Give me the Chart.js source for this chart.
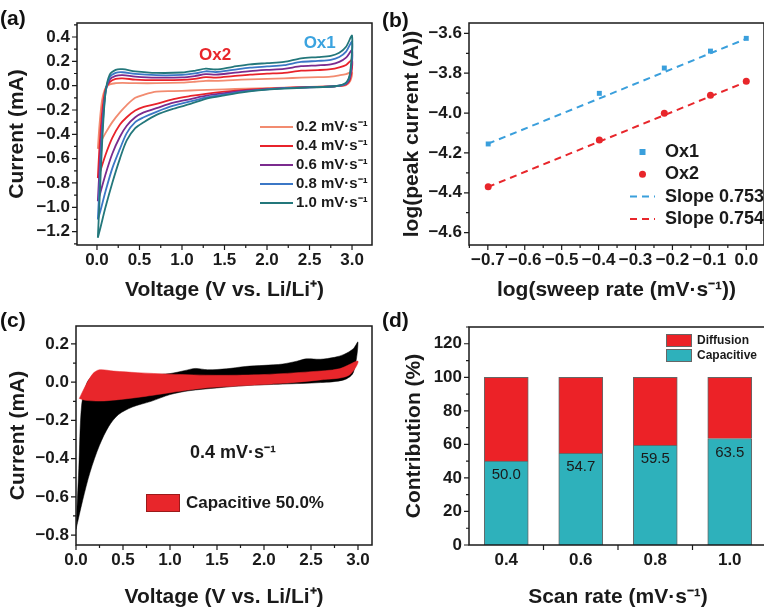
<!DOCTYPE html>
<html>
<head>
<meta charset="utf-8">
<script src="https://cdn.jsdelivr.net/npm/chart.js@4.4.1/dist/chart.umd.min.js"></script>
<style>
html, body { margin: 0; padding: 0; background: #fff; overflow: hidden; width: 764px; height: 607px; }
.panel { position: absolute; }
.tag { position: absolute; font: bold 21px "Liberation Sans", Arial, sans-serif; color: #111; }
</style>
</head>
<body>
<div class="panel" style="left:0;top:0"><canvas id="chartA" width="382" height="300"></canvas></div>
<div class="panel" style="left:382px;top:0"><canvas id="chartB" width="386" height="300"></canvas></div>
<div class="panel" style="left:0;top:300px"><canvas id="chartC" width="382" height="307"></canvas></div>
<div class="panel" style="left:382px;top:300px"><canvas id="chartD" width="386" height="307"></canvas></div>
<div class="tag" style="left:0;top:6px">(a)</div>
<div class="tag" style="left:382px;top:8px">(b)</div>
<div class="tag" style="left:0;top:308px">(c)</div>
<div class="tag" style="left:382px;top:308px">(d)</div>
<script>
// ---- (a) CV curves at five sweep rates ----
const rateNames = ['0.2 mV·s⁻¹', '0.4 mV·s⁻¹', '0.6 mV·s⁻¹', '0.8 mV·s⁻¹', '1.0 mV·s⁻¹'];
const anodicV   = [0.01, 0.03, 0.06, 0.1, 0.15, 0.22, 0.3, 0.45, 0.7, 1.0, 1.15, 1.28, 1.4, 1.6, 1.8, 2.0, 2.2, 2.4, 2.6, 2.75, 2.85, 2.93, 3.0];
const cathodicV = [2.98, 2.93, 2.8, 2.5, 2.2, 2.0, 1.75, 1.5, 1.3, 1.1, 0.9, 0.7, 0.55, 0.45, 0.35, 0.27, 0.18, 0.1, 0.04, 0.01];

const anodic02 = [-0.52, -0.32, -0.12, -0.02, 0.01, 0.02, 0.022, 0.02, 0.02, 0.025, 0.032, 0.04, 0.04, 0.046, 0.052, 0.056, 0.06, 0.066, 0.07, 0.075, 0.085, 0.095, 0.11];
const anodic04 = [-0.76, -0.5, -0.22, -0.03, 0.03, 0.055, 0.06, 0.05, 0.045, 0.047, 0.056, 0.07, 0.066, 0.078, 0.09, 0.098, 0.105, 0.123, 0.128, 0.135, 0.15, 0.17, 0.21];
const anodic06 = [-0.95, -0.68, -0.33, -0.05, 0.05, 0.08, 0.087, 0.075, 0.066, 0.068, 0.079, 0.094, 0.09, 0.105, 0.12, 0.13, 0.138, 0.16, 0.167, 0.175, 0.195, 0.23, 0.29];
const anodic08 = [-1.1, -0.82, -0.4, -0.06, 0.07, 0.105, 0.11, 0.096, 0.086, 0.088, 0.1, 0.118, 0.112, 0.13, 0.148, 0.158, 0.168, 0.195, 0.203, 0.212, 0.235, 0.28, 0.36];
const anodic10 = [-1.25, -0.95, -0.48, -0.06, 0.09, 0.13, 0.135, 0.118, 0.105, 0.108, 0.122, 0.14, 0.133, 0.155, 0.175, 0.185, 0.195, 0.225, 0.235, 0.245, 0.27, 0.32, 0.41];

const cathodic02 = [0.04, 0.005, -0.004, -0.01, -0.016, -0.02, -0.025, -0.03, -0.035, -0.04, -0.045, -0.05, -0.075, -0.1, -0.16, -0.22, -0.3, -0.39, -0.47, -0.52];
const cathodic04 = [0.06, 0.01, -0.005, -0.012, -0.018, -0.025, -0.035, -0.05, -0.065, -0.085, -0.11, -0.15, -0.175, -0.205, -0.26, -0.32, -0.43, -0.57, -0.7, -0.76];
const cathodic06 = [0.08, 0.015, -0.005, -0.013, -0.02, -0.028, -0.042, -0.062, -0.08, -0.11, -0.14, -0.185, -0.22, -0.26, -0.33, -0.42, -0.56, -0.73, -0.88, -0.95];
const cathodic08 = [0.1, 0.02, -0.005, -0.014, -0.021, -0.03, -0.047, -0.072, -0.095, -0.13, -0.165, -0.215, -0.26, -0.3, -0.39, -0.52, -0.68, -0.87, -1.03, -1.1];
const cathodic10 = [0.12, 0.025, -0.005, -0.015, -0.024, -0.033, -0.052, -0.08, -0.105, -0.15, -0.19, -0.24, -0.3, -0.35, -0.45, -0.6, -0.8, -1.0, -1.17, -1.25];

const aXTicks = [0, 0.5, 1.0, 1.5, 2.0, 2.5, 3.0];
const aYTicks = [-1.2, -1.0, -0.8, -0.6, -0.4, -0.2, 0.0, 0.2, 0.4];

// ---- (b) log(peak current) vs log(sweep rate) ----
const logRate = [-0.699, -0.398, -0.222, -0.097, 0.0];
const logOx1  = [-4.155, -3.901, -3.774, -3.689, -3.625];
const logOx2  = [-4.37, -4.135, -4.001, -3.91, -3.84];
const fitX    = [-0.7, 0.0];
const fitOx1  = [-4.154, -3.627];
const fitOx2  = [-4.371, -3.843];
const bXTicks = [-0.7, -0.6, -0.5, -0.4, -0.3, -0.2, -0.1, 0.0];
const bYTicks = [-4.6, -4.4, -4.2, -4.0, -3.8, -3.6];

// ---- (c) capacitive share at 0.4 mV/s ----
const totalUpV = [0.0, 0.03, 0.06, 0.12, 0.2, 0.3, 0.5, 0.8, 1.0, 1.15, 1.27, 1.4, 1.6, 1.8, 2.0, 2.2, 2.35, 2.45, 2.6, 2.75, 2.85, 2.95, 3.0];
const totalUpI = [-0.77, -0.45, -0.12, 0.0, 0.04, 0.05, 0.045, 0.04, 0.045, 0.06, 0.072, 0.065, 0.07, 0.082, 0.088, 0.095, 0.11, 0.122, 0.12, 0.13, 0.145, 0.175, 0.21];
const totalDownV = [2.95, 2.85, 2.6, 2.2, 1.8, 1.5, 1.2, 1.0, 0.8, 0.6, 0.45, 0.35, 0.25, 0.15, 0.07, 0.0];
const totalDownI = [0.05, 0.012, -0.002, -0.01, -0.018, -0.03, -0.045, -0.065, -0.1, -0.13, -0.17, -0.23, -0.33, -0.47, -0.62, -0.77];
const capUpV = [0.035, 0.1, 0.18, 0.25, 0.4, 0.65, 1.0, 1.5, 2.0, 2.5, 2.8, 3.0];
const capUpI = [-0.085, -0.02, 0.045, 0.065, 0.058, 0.05, 0.042, 0.036, 0.04, 0.055, 0.07, 0.11];
const capDownV = [2.9, 2.6, 2.2, 1.8, 1.35, 1.0, 0.65, 0.3, 0.1, 0.035];
const capDownI = [0.035, 0.012, -0.006, -0.018, -0.032, -0.055, -0.08, -0.098, -0.095, -0.085];
const cXTicks = [0, 0.5, 1.0, 1.5, 2.0, 2.5, 3.0];
const cYTicks = [-0.8, -0.6, -0.4, -0.2, 0.0, 0.2];

// ---- (d) contribution bars ----
const scanRates = ['0.4', '0.6', '0.8', '1.0'];
const capacitivePct = [50.0, 54.7, 59.5, 63.5];
const diffusionPct = [50.0, 45.3, 40.5, 36.5];
const dYTicks = [0, 20, 40, 60, 80, 100, 120];

const FONT = '"Liberation Sans", Arial, Helvetica, sans-serif';
const INK = '#1a1a1a';
Chart.defaults.font.family = FONT;
Chart.defaults.color = INK;

const pts = (xs, ys) => xs.map((x, i) => ({x: x, y: ys[i]}));
const loop = (v1, i1, v2, i2) => pts(v1, i1).concat(pts(v2, i2));
const fmt1 = v => v.toFixed(1).replace('-', '\u2212');

// frame around the plot plus major and minor tick marks (outward)
const frameTicks = {
  id: 'frameTicks',
  afterDraw(chart, args, o) {
    const {ctx, chartArea: a} = chart;
    const xs = chart.scales.x, ys = chart.scales.y;
    ctx.save();
    ctx.strokeStyle = INK;
    ctx.lineWidth = 1.5;
    ctx.strokeRect(a.left, a.top, a.right - a.left, a.bottom - a.top);
    ctx.lineWidth = 1.2;
    ctx.beginPath();
    const xTick = (p, len) => { ctx.moveTo(p, a.bottom); ctx.lineTo(p, a.bottom + len); };
    const yTick = (p, len) => { ctx.moveTo(a.left, p); ctx.lineTo(a.left - len, p); };
    const withMinor = (scale, draw) => {
      const t = scale.ticks.map(k => k.value);
      t.forEach(v => draw(scale.getPixelForValue(v), 5));
      const step = t[1] - t[0];
      const minors = [t[0] - step / 2];
      for (let i = 0; i < t.length; i++) minors.push(t[i] + step / 2);
      minors.forEach(v => { if (v >= scale.min - 1e-9 && v <= scale.max + 1e-9) draw(scale.getPixelForValue(v), 3); });
    };
    if (xs.type === 'category') {
      const n = xs.getLabels().length;
      for (let i = 0; i < n - 1; i++) xTick((xs.getPixelForValue(i) + xs.getPixelForValue(i + 1)) / 2, 5);
    } else {
      withMinor(xs, xTick);
    }
    withMinor(ys, yTick);
    ctx.stroke();
    ctx.restore();
  }
};

// legend drawn inside the plot
const keys = {
  id: 'keys',
  afterDraw(chart, args, o) {
    if (!o.items) return;
    const ctx = chart.ctx;
    ctx.save();
    ctx.font = o.font;
    ctx.textBaseline = 'middle';
    o.items.forEach((it, i) => {
      const y = o.y + i * o.step, x = o.x;
      ctx.fillStyle = it.color;
      ctx.strokeStyle = it.color;
      ctx.lineWidth = 2;
      if (it.kind === 'line' || it.kind === 'dash') {
        ctx.setLineDash(it.kind === 'dash' ? [7, 5] : []);
        ctx.beginPath(); ctx.moveTo(x, y); ctx.lineTo(x + o.swatch, y); ctx.stroke();
        ctx.setLineDash([]);
      } else if (it.kind === 'square') {
        ctx.fillRect(x + o.swatch / 2 - 3, y - 3, 6, 6);
      } else if (it.kind === 'dot') {
        ctx.beginPath(); ctx.arc(x + o.swatch / 2, y, 3.5, 0, Math.PI * 2); ctx.fill();
      } else if (it.kind === 'box') {
        ctx.fillRect(x, y - o.boxH / 2, o.swatch, o.boxH);
        ctx.strokeStyle = it.edge || '#666';
        ctx.lineWidth = 1;
        ctx.strokeRect(x + 0.5, y - o.boxH / 2 + 0.5, o.swatch - 1, o.boxH - 1);
      }
      ctx.fillStyle = INK;
      ctx.fillText(it.text, x + o.swatch + o.gap, y);
    });
    ctx.restore();
  }
};

// free text notes, in data or pixel coordinates
const notes = {
  id: 'notes',
  afterDraw(chart, args, o) {
    if (!o.items) return;
    const ctx = chart.ctx;
    ctx.save();
    ctx.textAlign = 'center';
    ctx.textBaseline = 'middle';
    o.items.forEach(n => {
      ctx.font = n.font;
      ctx.fillStyle = n.color || INK;
      const x = n.data ? chart.scales.x.getPixelForValue(n.x) : n.x;
      const y = n.data ? chart.scales.y.getPixelForValue(n.y) : n.y;
      ctx.fillText(n.text, x, y);
    });
    ctx.restore();
  }
};

// value labels inside the capacitive bars
const barValues = {
  id: 'barValues',
  afterDatasetsDraw(chart, args, o) {
    if (!o.show) return;
    const ctx = chart.ctx;
    const meta = chart.getDatasetMeta(0);
    ctx.save();
    ctx.font = '15px ' + FONT;
    ctx.fillStyle = INK;
    ctx.textAlign = 'center';
    ctx.textBaseline = 'middle';
    meta.data.forEach((bar, i) => ctx.fillText(capacitivePct[i].toFixed(1), bar.x, bar.y + 14));
    ctx.restore();
  }
};

Chart.register(frameTicks, keys, notes, barValues);

function axis(cfg) {
  const horiz = cfg.pos === 'bottom';
  const s = {
    type: cfg.type || 'linear',
    position: cfg.pos,
    grid: {display: false, drawTicks: false},
    border: {display: false},
    afterFit: sc => { if (horiz) sc.height = cfg.size; else sc.width = cfg.size; },
    ticks: {
      font: {size: 17, weight: 'bold'},
      color: INK,
      padding: horiz ? 5 : 7,
      autoSkip: false,
      maxRotation: 0
    },
    title: {
      display: true,
      text: cfg.title,
      font: {size: 21, weight: 'bold'},
      color: INK,
      padding: horiz ? {top: 0, bottom: -3} : {top: cfg.titlePad, bottom: 0}
    }
  };
  if (s.type === 'linear') {
    s.min = cfg.min;
    s.max = cfg.max;
    s.afterBuildTicks = sc => { sc.ticks = cfg.ticks.map(v => ({value: v})); };
    s.ticks.callback = cfg.fmt || fmt1;
  }
  return s;
}

const baseOpts = (pad) => ({
  responsive: false,
  animation: false,
  layout: {padding: pad},
  plugins: {legend: {display: false}, tooltip: {enabled: false}}
});

// ---------- (a) ----------
const rateColors = ['#f28b70', '#e8232b', '#7b2b8e', '#3b77c6', '#23777b'];
const anodicSets = [anodic02, anodic04, anodic06, anodic08, anodic10];
const cathodicSets = [cathodic02, cathodic04, cathodic06, cathodic08, cathodic10];
const optsA = baseOpts({left: 0, right: 10, top: 23, bottom: 0});
optsA.scales = {
  x: axis({pos: 'bottom', min: -0.235, max: 3.235, ticks: aXTicks, size: 55, title: 'Voltage (V vs. Li/Li⁺)'}),
  y: axis({pos: 'left', min: -1.31, max: 0.515, ticks: aYTicks, size: 77, titlePad: 5, title: 'Current (mA)'})
};
optsA.plugins.keys = {
  x: 260, y: 127, step: 19, swatch: 33, gap: 3, font: 'bold 15px ' + FONT,
  items: rateNames.map((n, i) => ({kind: 'line', color: rateColors[i], text: n}))
};
optsA.plugins.notes = {items: [
  {text: 'Ox2', x: 1.39, y: 0.246, data: true, color: '#e8262b', font: 'bold 17px ' + FONT},
  {text: 'Ox1', x: 2.62, y: 0.345, data: true, color: '#3ba3df', font: 'bold 17px ' + FONT}
]};
new Chart(document.getElementById('chartA'), {
  type: 'line',
  data: {
    datasets: rateNames.map((n, i) => ({
      label: n,
      data: loop(anodicV, anodicSets[i], cathodicV, cathodicSets[i]),
      borderColor: rateColors[i],
      borderWidth: 1.8,
      pointRadius: 0,
      tension: 0.3,
      fill: false,
      order: 5 - i
    }))
  },
  options: optsA
});

// ---------- (b) ----------
const optsB = baseOpts({left: 0, right: 2, top: 23, bottom: 0});
optsB.scales = {
  x: axis({pos: 'bottom', min: -0.751, max: 0.048, ticks: bXTicks, size: 55, title: 'log(sweep rate (mV·s⁻¹))'}),
  y: axis({pos: 'left', min: -4.662, max: -3.548, ticks: bYTicks, size: 87, titlePad: 18, title: 'log(peak current (A))'})
};
optsB.plugins.keys = {
  x: 248, y: 152, step: 22.3, swatch: 25, gap: 10, font: 'bold 18px ' + FONT,
  items: [
    {kind: 'square', color: '#3a9fdc', text: 'Ox1'},
    {kind: 'dot', color: '#e8262b', text: 'Ox2'},
    {kind: 'dash', color: '#3a9fdc', text: 'Slope 0.753'},
    {kind: 'dash', color: '#e8262b', text: 'Slope 0.754'}
  ]
};
new Chart(document.getElementById('chartB'), {
  type: 'line',
  data: {
    datasets: [
      {label: 'Slope 0.753', data: pts(fitX, fitOx1), borderColor: '#3a9fdc', borderWidth: 2, borderDash: [7, 5], pointRadius: 0},
      {label: 'Slope 0.754', data: pts(fitX, fitOx2), borderColor: '#e8262b', borderWidth: 2, borderDash: [7, 5], pointRadius: 0},
      {label: 'Ox1', data: pts(logRate, logOx1), showLine: false, pointStyle: 'rect', pointRadius: 3.5, backgroundColor: '#3a9fdc', borderColor: '#3a9fdc', borderWidth: 0},
      {label: 'Ox2', data: pts(logRate, logOx2), showLine: false, pointStyle: 'circle', pointRadius: 3.5, backgroundColor: '#e8262b', borderColor: '#e8262b', borderWidth: 0}
    ]
  },
  options: optsB
});

// ---------- (c) ----------
const optsC = baseOpts({left: 0, right: 10, top: 26, bottom: 0});
optsC.scales = {
  x: axis({pos: 'bottom', min: 0, max: 3.149, ticks: cXTicks, size: 62, title: 'Voltage (V vs. Li/Li⁺)'}),
  y: axis({pos: 'left', min: -0.852, max: 0.294, ticks: cYTicks, size: 76, titlePad: 6, title: 'Current (mA)'})
};
optsC.plugins.keys = {
  x: 146, y: 203, step: 0, swatch: 34, boxH: 18, gap: 6, font: 'bold 17px ' + FONT,
  items: [{kind: 'box', color: '#e8262b', edge: '#9b1a1a', text: 'Capacitive 50.0%'}]
};
optsC.plugins.notes = {items: [{text: '0.4 mV·s⁻¹', x: 233, y: 153, font: 'bold 18px ' + FONT}]};
new Chart(document.getElementById('chartC'), {
  type: 'line',
  data: {
    datasets: [
      {label: 'Capacitive', data: loop(capUpV, capUpI, capDownV, capDownI), borderColor: '#e8262b', backgroundColor: '#e8262b', borderWidth: 0.5, pointRadius: 0, tension: 0.3, fill: 'shape', order: 0},
      {label: 'Total', data: loop(totalUpV, totalUpI, totalDownV, totalDownI), borderColor: '#000', backgroundColor: '#000', borderWidth: 0.5, pointRadius: 0, tension: 0.3, fill: 'shape', order: 1}
    ]
  },
  options: optsC
});

// ---------- (d) ----------
const optsD = baseOpts({left: 0, right: 1, top: 27, bottom: 0});
optsD.scales = {
  x: Object.assign(axis({pos: 'bottom', type: 'category', size: 62, title: 'Scan rate (mV·s⁻¹)'}), {stacked: true, offset: true}),
  y: Object.assign(axis({pos: 'left', min: 0, max: 130, ticks: dYTicks, size: 87, titlePad: 20, title: 'Contribution (%)', fmt: v => String(v)}), {stacked: true})
};
optsD.plugins.keys = {
  x: 284, y: 40.5, step: 15, swatch: 26, boxH: 13, gap: 5, font: 'bold 12px ' + FONT,
  items: [
    {kind: 'box', color: '#ec2227', text: 'Diffusion'},
    {kind: 'box', color: '#2eb1bb', text: 'Capacitive'}
  ]
};
optsD.plugins.barValues = {show: true};
new Chart(document.getElementById('chartD'), {
  type: 'bar',
  data: {
    labels: scanRates,
    datasets: [
      {label: 'Capacitive', data: capacitivePct, backgroundColor: '#2eb1bb', borderColor: '#666', borderWidth: 1, barThickness: 44},
      {label: 'Diffusion', data: diffusionPct, backgroundColor: '#ec2227', borderColor: '#666', borderWidth: 1, barThickness: 44}
    ]
  },
  options: optsD
});
</script>
</body>
</html>
